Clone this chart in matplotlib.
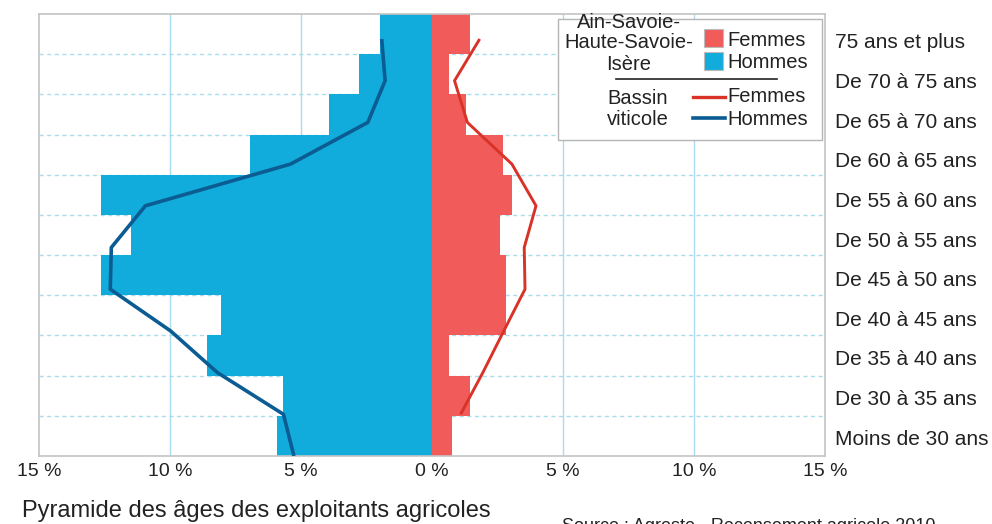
import matplotlib
matplotlib.use("Agg")
import matplotlib.pyplot as plt
import numpy as np
from matplotlib.patches import Rectangle
from matplotlib.lines import Line2D

plt.rcParams['font.family'] = ['Liberation Sans', 'DejaVu Sans']

# Age classes, bottom to top
categories = ["Moins de 30 ans", "De 30 à 35 ans", "De 35 à 40 ans", "De 40 à 45 ans",
              "De 45 à 50 ans", "De 50 à 55 ans", "De 55 à 60 ans", "De 60 à 65 ans",
              "De 65 à 70 ans", "De 70 à 75 ans", "75 ans et plus"]

# Ain-Savoie-Haute-Savoie-Isère (bars, % of farmers)
hommes_region = [5.93, 5.67, 8.6, 8.07, 12.62, 11.49, 12.62, 6.94, 3.92, 2.78, 1.99]
femmes_region = [0.77, 1.44, 0.65, 2.83, 2.83, 2.59, 3.05, 2.70, 1.31, 0.65, 1.44]

# Bassin viticole (lines, %)
hommes_bassin = [5.27, 5.67, 8.19, 9.98, 12.28, 12.24, 10.94, 5.40, 2.45, 1.79, 1.92]
femmes_bassin = [np.nan, 1.09, 1.94, 2.74, 3.55, 3.52, 3.97, 3.05, 1.35, 0.86, 1.82]

xticks = [-15, -10, -5, 0, 5, 10, 15]
xticklabels = ["15 %", "10 %", "5 %", "0 %", "5 %", "10 %", "15 %"]

title = "Pyramide des âges des exploitants agricoles"
source = "Source : Agreste - Recensement agricole 2010"

W, H = 992, 524
fig = plt.figure(figsize=(W / 100, H / 100), dpi=100)

def fx(x):
    return x / W

def fy(y):
    return 1 - y / H

BLUE = "#12ACDC"
RED = "#F15B5A"
DBLUE = "#0A5C92"
DRED = "#D93227"
GRID = "#A9DCEC"
TXT = "#222222"

pos = [fx(39), fy(456), fx(825) - fx(39), fy(14) - fy(456)]
ax = fig.add_axes(pos)
y = np.arange(len(categories))
ax.barh(y, -np.array(hommes_region), height=1.0, color=BLUE, zorder=2)
ax.barh(y, femmes_region, height=1.0, color=RED, zorder=2)
ax.set_xlim(-15, 15)
ax.set_ylim(-0.5, len(categories) - 0.5)

for xv in [-10, -5, 5, 10]:
    ax.axvline(xv, color=GRID, lw=1.0, zorder=1)
for yb in np.arange(0.5, len(categories) - 0.5, 1.0):
    ax.axhline(yb, color=GRID, lw=1.0, ls=(0, (3, 2.5)), zorder=1)

ax.set_xticks(xticks)
ax.set_xticklabels(xticklabels, fontsize=14, color=TXT)
ax.yaxis.tick_right()
# labels sit slightly below the bar centres in the reference
ax.set_yticks(y * 0.986 - 0.03)
ax.set_yticklabels(categories, fontsize=15, color=TXT)
ax.tick_params(axis='both', length=0)
ax.tick_params(axis='y', pad=7)
ax.tick_params(axis='x', pad=5)
for s in ax.spines.values():
    s.set_color("#C4C4C4")
    s.set_linewidth(1.2)

# Lines axis
ax2 = fig.add_axes(pos, frameon=False)
ax2.set_xlim(-15, 15)
yl = np.arange(len(categories))
ax2.set_ylim(0, 10 * 442 / 417)
ax2.plot(-np.array(hommes_bassin), yl, color=DBLUE, lw=2.6, solid_capstyle='butt', zorder=3)
ax2.plot(femmes_bassin, yl, color=DRED, lw=2.1, solid_capstyle='butt', zorder=3)
ax2.set_xticks([])
ax2.set_yticks([])

# Legend (manual)
box = Rectangle((fx(558), fy(140)), fx(822) - fx(558), fy(19) - fy(140),
                transform=fig.transFigure, facecolor="white", edgecolor="#B5B5B5",
                lw=1.0, zorder=10)
fig.add_artist(box)
fs = 14.5
fig.text(fx(629), fy(23), "Ain-Savoie-", ha='center', va='center', fontsize=fs, color=TXT, zorder=11)
fig.text(fx(629), fy(43), "Haute-Savoie-", ha='center', va='center', fontsize=fs, color=TXT, zorder=11)
fig.text(fx(629), fy(65), "Isère", ha='center', va='center', fontsize=fs, color=TXT, zorder=11)
fig.add_artist(Rectangle((fx(704), fy(47)), fx(723) - fx(704), fy(29) - fy(47),
                         transform=fig.transFigure, facecolor=RED, edgecolor="#BBBBBB", lw=0.8, zorder=11))
fig.add_artist(Rectangle((fx(704), fy(70)), fx(723) - fx(704), fy(52) - fy(70),
                         transform=fig.transFigure, facecolor=BLUE, edgecolor="#BBBBBB", lw=0.8, zorder=11))
fig.text(fx(727), fy(40), "Femmes", ha='left', va='center', fontsize=fs, color=TXT, zorder=11)
fig.text(fx(727), fy(63), "Hommes", ha='left', va='center', fontsize=fs, color=TXT, zorder=11)
fig.add_artist(Line2D([fx(616), fx(777)], [fy(79), fy(79)], transform=fig.transFigure,
                      color=TXT, lw=1.2, zorder=11))
fig.text(fx(638), fy(98), "Bassin", ha='center', va='center', fontsize=fs, color=TXT, zorder=11)
fig.text(fx(638), fy(120), "viticole", ha='center', va='center', fontsize=fs, color=TXT, zorder=11)
fig.add_artist(Line2D([fx(693), fx(725)], [fy(97), fy(97)], transform=fig.transFigure,
                      color=DRED, lw=2.4, zorder=11))
fig.add_artist(Line2D([fx(693), fx(725)], [fy(118), fy(118)], transform=fig.transFigure,
                      color=DBLUE, lw=2.6, zorder=11))
fig.text(fx(727), fy(97), "Femmes", ha='left', va='center', fontsize=fs, color=TXT, zorder=11)
fig.text(fx(727), fy(120), "Hommes", ha='left', va='center', fontsize=fs, color=TXT, zorder=11)

fig.text(fx(22), fy(511), title, ha='left', va='center', fontsize=17, color=TXT)
fig.text(fx(562), fy(531), source, ha='left', va='baseline', fontsize=13, color=TXT)

fig.savefig("out.png", dpi=100)
